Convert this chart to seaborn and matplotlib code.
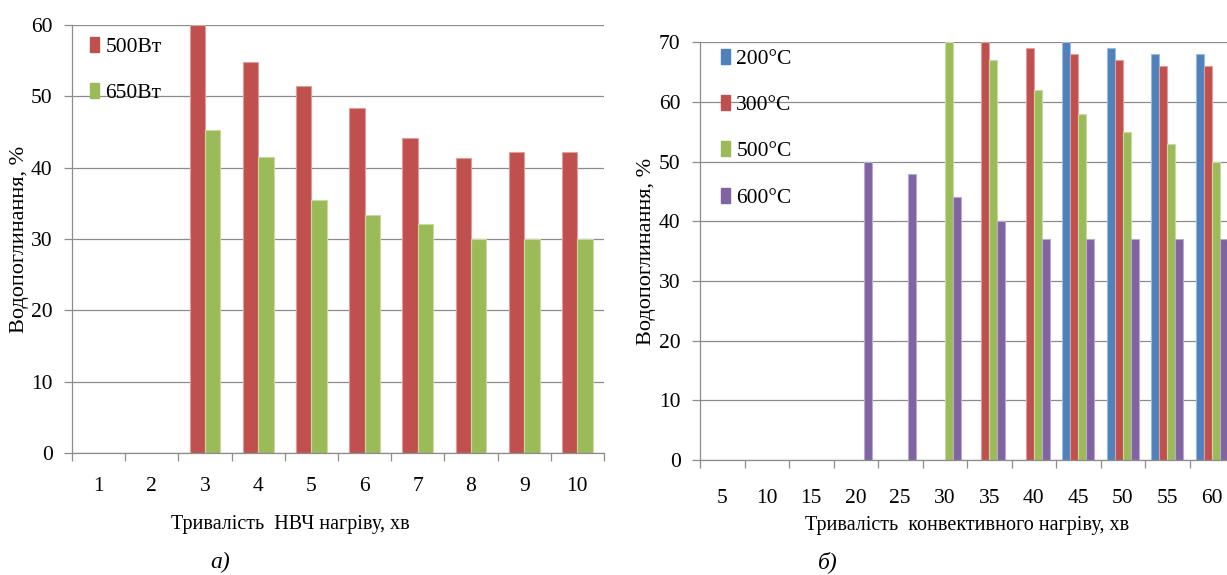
import numpy as np
import pandas as pd
import matplotlib
matplotlib.use("Agg")
import matplotlib.pyplot as plt
import matplotlib.colors as mcolors
from matplotlib.patches import Patch
from matplotlib.ticker import FixedLocator
import seaborn as sns

nan = np.nan

# Panel а: microwave (НВЧ) heating, minutes
mw_minutes = ["1", "2", "3", "4", "5", "6", "7", "8", "9", "10"]
mw_500 = [nan, nan, 60.0, 54.8, 51.4, 48.3, 44.1, 41.4, 42.2, 42.2]
mw_650 = [nan, nan, 45.3, 41.5, 35.5, 33.3, 32.1, 30.0, 30.0, 30.0]
mw_names = ["500Вт", "650Вт"]

# Panel б: convective heating, minutes
cv_minutes = ["5", "10", "15", "20", "25", "30", "35", "40", "45", "50", "55", "60"]
cv_200 = [nan, nan, nan, nan, nan, nan, nan, nan, 70, 69, 68, 68]
cv_300 = [nan, nan, nan, nan, nan, nan, 70, 69, 68, 67, 66, 66]
cv_500 = [nan, nan, nan, nan, nan, 70, 67, 62, 58, 55, 53, 50]
cv_600 = [nan, nan, nan, 50, 48, 44, 40, 37, 37, 37, 37, 37]
cv_names = ["200°C", "300°C", "500°C", "600°C"]

BLUE, RED, GREEN, PURPLE = "#4F81BD", "#C0504D", "#9BBB59", "#8064A2"
GRID = "#8c8c8c"
TICK_FS = 15.5

sns.set_theme(style="white")
plt.rcParams["font.family"] = ["Liberation Serif", "DejaVu Serif"]
plt.rcParams["text.color"] = "black"
plt.rcParams["axes.labelcolor"] = "black"
plt.rcParams["xtick.color"] = "black"
plt.rcParams["ytick.color"] = "black"


def long_frame(cats, names, values):
    rows = []
    for name, vals in zip(names, values):
        for c, v in zip(cats, vals):
            rows.append({"cat": c, "series": name, "value": v})
    return pd.DataFrame(rows)


def draw_panel(ax, cats, names, values, colors, width, ymax, xlabel,
               xlabel_pos, ylabel_x, xpad, legend_anchor):
    df = long_frame(cats, names, values)
    palette = dict(zip(names, colors))
    sns.barplot(data=df, x="cat", y="value", hue="series", order=cats,
                hue_order=names, palette=palette, width=width, saturation=1,
                errorbar=None, legend=False, ax=ax)
    # light outline around each bar
    for p in ax.patches:
        fc = np.array(mcolors.to_rgb(p.get_facecolor()))
        p.set_edgecolor(fc + (1 - fc) * 0.45)
        p.set_linewidth(0.8)

    n = len(cats)
    ax.set_xlim(-0.5, n - 0.5)
    ax.set_ylim(0, ymax)
    ax.set_yticks(range(0, ymax + 1, 10))
    ax.yaxis.grid(True, color=GRID, lw=0.9)
    ax.set_axisbelow(True)
    for s in ("top", "right"):
        ax.spines[s].set_visible(False)
    for s in ("left", "bottom"):
        ax.spines[s].set_color(GRID)
        ax.spines[s].set_linewidth(0.9)

    ax.xaxis.set_minor_locator(FixedLocator(np.arange(-0.5, n, 1.0)))
    ax.tick_params(axis="x", which="major", bottom=True, length=0,
                   pad=xpad, labelsize=TICK_FS)
    ax.tick_params(axis="x", which="minor", bottom=True, length=6,
                   width=0.9, color=GRID, direction="out")
    ax.tick_params(axis="y", which="major", left=True, length=6,
                   width=0.9, color=GRID, direction="out", pad=8,
                   labelsize=TICK_FS)

    ax.set_xlabel(xlabel, fontsize=14.5)
    ax.xaxis.set_label_coords(*xlabel_pos)
    ax.set_ylabel("Водопоглинання, %", fontsize=16)
    ax.yaxis.set_label_coords(ylabel_x, 0.5)

    handles = [Patch(facecolor=c, edgecolor=c) for c in colors]
    ax.legend(handles, names, loc="upper left", bbox_to_anchor=legend_anchor,
              frameon=False, fontsize=TICK_FS, handlelength=0.42,
              handleheight=0.7, handletextpad=0.3, labelspacing=1.22,
              borderpad=0, borderaxespad=0)


W, H = 1227, 575
fig = plt.figure(figsize=(W / 100, H / 100), dpi=100)
fig.patch.set_facecolor("white")

ax_a = fig.add_axes([72 / W, 1 - 453 / H, 532 / W, 428 / H])
ax_b = fig.add_axes([700 / W, 1 - 460 / H, 534 / W, 417.7 / H])

draw_panel(ax_a, mw_minutes, mw_names, [mw_500, mw_650], [RED, GREEN],
           0.58, 60, "Тривалість  НВЧ нагріву, хв", (0.41, -0.145), -0.081,
           17, (0.034, 0.972))
draw_panel(ax_b, cv_minutes, cv_names, [cv_200, cv_300, cv_500, cv_600],
           [BLUE, RED, GREEN, PURPLE], 0.72, 70,
           "Тривалість  конвективного нагріву, хв", (0.50, -0.135), -0.083,
           21, (0.039, 0.985))

fig.text(220 / W, 1 - 562 / H, "а)", fontsize=17, style="italic",
         ha="center", va="center")
fig.text(828 / W, 1 - 562 / H, "б)", fontsize=17, style="italic",
         ha="center", va="center")

fig.savefig("out.png", dpi=100)
